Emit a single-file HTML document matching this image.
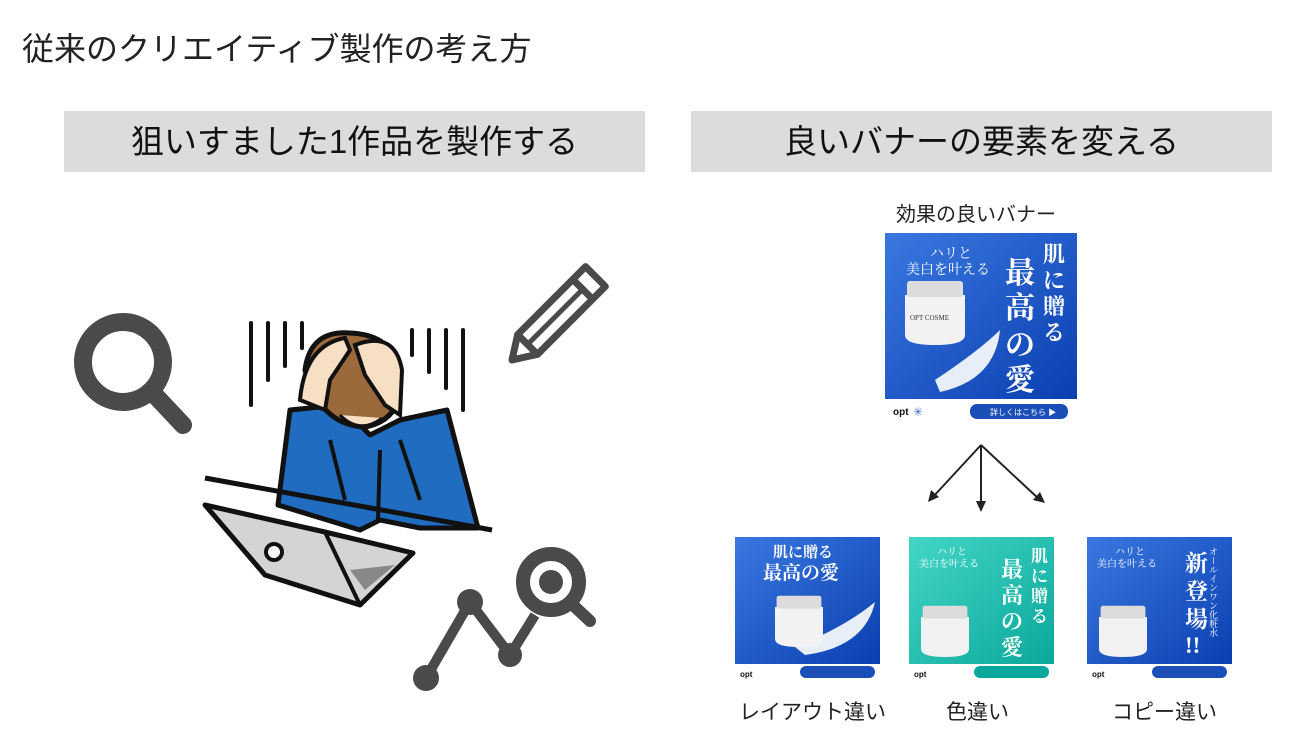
<!DOCTYPE html>
<html><head><meta charset="utf-8"><style>
body{margin:0;width:1300px;height:734px;background:#fff;overflow:hidden;position:relative;font-family:"Liberation Sans","Noto Sans CJK JP",sans-serif;}
.t{position:absolute;white-space:nowrap;color:#222;}
.box{position:absolute;background:#dcdcdc;top:111px;height:61px;width:581px;font-size:33px;text-align:center;line-height:61px;color:#111;}
</style></head><body>
<div class="t" style="left:22px;top:24px;font-size:32px;">従来のクリエイティブ製作の考え方</div>
<div class="box" style="left:64px;">狙いすました1作品を製作する</div>
<div class="box" style="left:691px;">良いバナーの要素を変える</div>
<div class="t" style="left:896px;top:198px;font-size:20px;">効果の良いバナー</div>
<div class="t" style="left:739px;top:696px;font-size:21px;">レイアウト違い</div>
<div class="t" style="left:946px;top:696px;font-size:21px;">色違い</div>
<div class="t" style="left:1112px;top:696px;font-size:21px;">コピー違い</div>

<svg width="1300" height="734" style="position:absolute;left:0;top:0" font-family="Liberation Serif, Noto Serif CJK SC, serif">
<defs>
<linearGradient id="bl" x1="0" y1="0" x2="1" y2="1"><stop offset="0" stop-color="#3a78e0"/><stop offset="1" stop-color="#0a3fb0"/></linearGradient>
<linearGradient id="tl" x1="0" y1="0" x2="1" y2="1"><stop offset="0" stop-color="#44d6c6"/><stop offset="1" stop-color="#0aa89c"/></linearGradient>
<g id="jar">
<path d="M0 0 h60 v40 q0 10 -30 10 q-30 0 -30 -10z" fill="#f2f2f2"/>
<rect x="2" y="-14" width="56" height="16" rx="3" fill="#dcdcdc"/>
</g>
</defs>
<!-- magnifier -->
<circle cx="123" cy="362" r="40" fill="none" stroke="#4a4a4a" stroke-width="18"/>
<line x1="152" y1="392" x2="183" y2="425" stroke="#4a4a4a" stroke-width="18" stroke-linecap="round"/>
<!-- pencil -->
<g transform="translate(512,360) rotate(-45)" fill="none" stroke="#4a4a4a" stroke-width="7" stroke-linejoin="round">
<path d="M0 0 L22 -14 H118 V14 H22 Z"/><line x1="22" y1="-14" x2="22" y2="14"/><line x1="100" y1="-14" x2="100" y2="14"/><line x1="22" y1="0" x2="100" y2="0" stroke-width="5"/>
</g>
<!-- chart -->
<polyline points="426,678 470,602 510,655 535,615" fill="none" stroke="#4a4a4a" stroke-width="10"/>
<circle cx="426" cy="678" r="13" fill="#4a4a4a"/><circle cx="470" cy="602" r="13" fill="#4a4a4a"/><circle cx="510" cy="655" r="12" fill="#4a4a4a"/>
<circle cx="551" cy="582" r="28" fill="none" stroke="#4a4a4a" stroke-width="14"/><circle cx="551" cy="582" r="12" fill="#4a4a4a"/>
<line x1="574" y1="606" x2="590" y2="621" stroke="#4a4a4a" stroke-width="12" stroke-linecap="round"/>
<!-- person -->
<g stroke="#111" stroke-width="4" stroke-linecap="round">
<line x1="251" y1="323" x2="251" y2="405"/><line x1="268" y1="323" x2="268" y2="380"/><line x1="285" y1="323" x2="285" y2="366"/><line x1="302" y1="323" x2="302" y2="348"/>
<line x1="412" y1="330" x2="412" y2="355"/><line x1="429" y1="330" x2="429" y2="372"/><line x1="446" y1="330" x2="446" y2="388"/><line x1="463" y1="330" x2="463" y2="410"/>
</g>
<path d="M290 410 L340 405 L370 435 L400 420 L447 410 L478 528 L420 528 L380 520 L360 530 L278 505 Z" fill="#1f6cc0" stroke="#111" stroke-width="5" stroke-linejoin="round"/>
<path d="M330 440 L345 500 M400 440 L420 500 M380 450 L378 520" stroke="#111" stroke-width="4" fill="none"/>
<path d="M305 370 Q310 330 350 333 Q398 335 400 380 Q402 420 365 427 Q320 425 305 370Z" fill="#9b6a3c" stroke="#111" stroke-width="5"/>
<path d="M300 400 Q305 345 345 338 L350 350 L330 380 L325 410Z" fill="#f6dfc2" stroke="#111" stroke-width="4"/>
<path d="M355 345 Q395 330 402 370 L400 415 L385 405 L365 375Z" fill="#f6dfc2" stroke="#111" stroke-width="4"/>
<path d="M340 415 Q360 435 382 418" fill="#f6dfc2" stroke="#111" stroke-width="3"/>
<line x1="205" y1="478" x2="492" y2="530" stroke="#111" stroke-width="5"/>
<path d="M205 505 L325 532 L413 553 L360 605 L265 575Z" fill="#d4d4d4" stroke="#111" stroke-width="5" stroke-linejoin="round"/>
<path d="M325 532 L360 605" stroke="#111" stroke-width="4" fill="none"/>
<path d="M350 570 L395 565 L365 590Z" fill="#888"/>
<circle cx="274" cy="552" r="8" fill="#fff" stroke="#111" stroke-width="4"/>
<!-- arrows -->
<g stroke="#222" stroke-width="2" fill="none">
<line x1="981" y1="445" x2="932" y2="498"/><line x1="981" y1="445" x2="981" y2="508"/><line x1="981" y1="445" x2="1040" y2="500"/>
</g>
<g fill="#222"><path d="M928 502 l3 -12 l8 7z"/><path d="M981 512 l-5 -11 h10z"/><path d="M1045 503 l-12 -3 l7 -8z"/></g>
<!-- main banner -->
<rect x="885" y="233" width="192" height="166" fill="url(#bl)"/>
<rect x="885" y="399" width="192" height="24" fill="#fff"/>
<g fill="#fff" font-size="14"><text x="930" y="258">ハリと</text><text x="906" y="274">美白を叶える</text></g>
<g fill="#fff" font-size="30" font-weight="bold"><text x="1005" y="283">最</text><text x="1005" y="318">高</text><text x="1005" y="355">の</text><text x="1005" y="390">愛</text></g>
<g fill="#fff" font-size="22" font-weight="bold"><text x="1043" y="262">肌</text><text x="1043" y="288">に</text><text x="1043" y="314">贈</text><text x="1043" y="340">る</text></g>
<path d="M935 380 Q980 350 1000 330 Q995 380 940 392Z" fill="#e8eef8"/>
<use href="#jar" transform="translate(905,295)"/>
<text x="910" y="320" font-size="7" fill="#333">OPT COSME</text>
<text x="893" y="415" font-size="10" font-weight="bold" fill="#111" font-family="Liberation Sans">opt</text>
<text x="913" y="416" font-size="12" fill="#3a6ad0">✳</text>
<rect x="970" y="404" width="98" height="15" rx="7" fill="#1a4fb8"/>
<text x="990" y="415" font-size="8" fill="#fff" font-family="Liberation Sans, Noto Sans CJK JP">詳しくはこちら ▶</text>
<!-- small banners -->
<g transform="translate(735,537)">
<rect width="145" height="127" fill="url(#bl)"/><rect y="127" width="145" height="18" fill="#fff"/>
<text x="38" y="20" font-size="15" fill="#fff" font-weight="bold">肌に贈る</text><text x="28" y="42" font-size="19" fill="#fff" font-weight="bold">最高の愛</text>
<path d="M60 110 Q110 90 140 65 Q130 110 70 118Z" fill="#e8eef8"/>
<use href="#jar" transform="translate(40,70) scale(0.8)"/>
<text x="5" y="140" font-size="8" font-weight="bold" fill="#111" font-family="Liberation Sans">opt</text>
<rect x="65" y="129" width="75" height="12" rx="6" fill="#1a4fb8"/>
</g>
<g transform="translate(909,537)">
<rect width="145" height="127" fill="url(#tl)"/><rect y="127" width="145" height="18" fill="#fff"/>
<g fill="#fff" font-size="10"><text x="28" y="18">ハリと</text><text x="10" y="30">美白を叶える</text></g>
<g fill="#fff" font-size="22" font-weight="bold"><text x="92" y="40">最</text><text x="92" y="66">高</text><text x="92" y="92">の</text><text x="92" y="118">愛</text></g>
<g fill="#fff" font-size="17" font-weight="bold"><text x="122" y="25">肌</text><text x="122" y="45">に</text><text x="122" y="65">贈</text><text x="122" y="85">る</text></g>
<use href="#jar" transform="translate(12,80) scale(0.8)"/>
<text x="5" y="140" font-size="8" font-weight="bold" fill="#111" font-family="Liberation Sans">opt</text>
<rect x="65" y="129" width="75" height="12" rx="6" fill="#0aa89c"/>
</g>
<g transform="translate(1087,537)">
<rect width="145" height="127" fill="url(#bl)"/><rect y="127" width="145" height="18" fill="#fff"/>
<g fill="#fff" font-size="10"><text x="28" y="18">ハリと</text><text x="10" y="30">美白を叶える</text></g>
<g fill="#fff" font-size="23" font-weight="bold"><text x="98" y="34">新</text><text x="98" y="62">登</text><text x="98" y="90">場</text><text x="98" y="116">!!</text></g>
<text x="126" y="10" font-size="9" fill="#fff" writing-mode="tb">オールインワン化粧水</text>
<use href="#jar" transform="translate(12,80) scale(0.8)"/>
<text x="5" y="140" font-size="8" font-weight="bold" fill="#111" font-family="Liberation Sans">opt</text>
<rect x="65" y="129" width="75" height="12" rx="6" fill="#1a4fb8"/>
</g>
</svg>
</body></html>
